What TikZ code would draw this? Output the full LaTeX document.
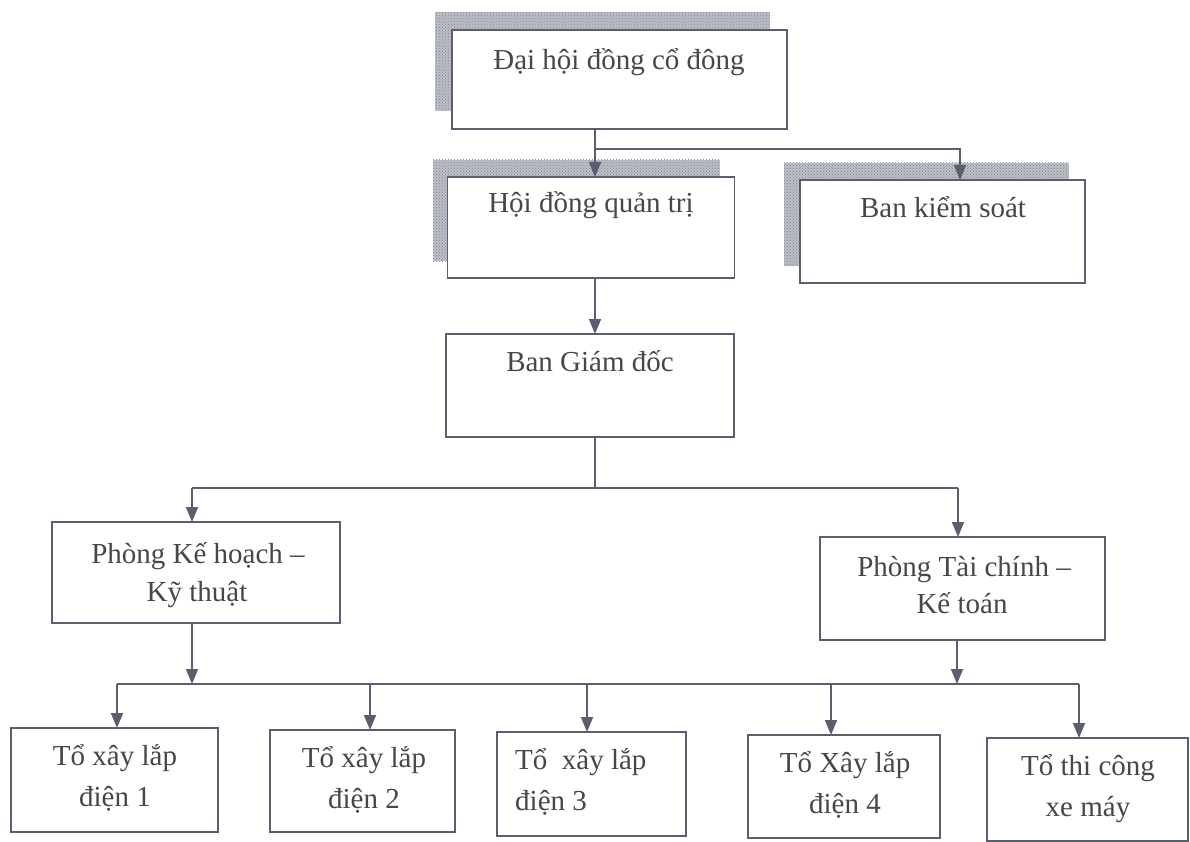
\documentclass[tikz,border=0pt]{standalone}
\usepackage{fontspec}
\setmainfont{Liberation Serif}
\usetikzlibrary{arrows.meta,backgrounds,patterns}
\definecolor{linec}{HTML}{5A5E6E}
\definecolor{textc}{HTML}{474747}
\definecolor{shadowc}{HTML}{BDBFC7}
\definecolor{shadowdot}{HTML}{7E8190}
\begin{document}
\begin{tikzpicture}[x=1pt,y=-1pt,
  box/.style={draw=linec, line width=1.8pt, fill=white, inner sep=0pt, outer sep=0pt},
  shadowbox/.style={fill=shadowc, draw=none},
  shadowdots/.style={pattern=crosshatch dots, pattern color=shadowdot, draw=none},
  lbl/.style={text=textc, font=\fontsize{29}{40}\selectfont, inner sep=0pt, anchor=base},
  conn/.style={draw=linec, line width=1.7pt},
  arr/.style={conn, -{Triangle[length=15pt,width=12pt]}},
]
\useasboundingbox (0,0) rectangle (1190,842);

% boxes
\node[box, minimum width=335pt, minimum height=99pt]  (dh)  at (619.5,79.5) {};
\node[box, minimum width=287pt, minimum height=101pt] (hq)  at (591,227.5) {};
\node[box, minimum width=285pt, minimum height=103pt] (bks) at (942.5,231.5) {};
\node[box, minimum width=288pt, minimum height=103pt] (bgd) at (590,385.5) {};
\node[box, minimum width=288pt, minimum height=101pt] (pkh) at (196,572.5) {};
\node[box, minimum width=285pt, minimum height=103pt] (ptc) at (962.5,588.5) {};
\node[box, minimum width=207pt, minimum height=104pt] (b1)  at (114.5,780) {};
\node[box, minimum width=185pt, minimum height=102pt] (b2)  at (362.5,781) {};
\node[box, minimum width=189pt, minimum height=104pt] (b3)  at (591.5,784) {};
\node[box, minimum width=192pt, minimum height=103pt] (b4)  at (844,786.5) {};
\node[box, minimum width=201pt, minimum height=103pt] (b5)  at (1087.5,789.5) {};

% shadows and page
\begin{scope}[on background layer]
\fill[white] (0,0) rectangle (1190,842);
\foreach \n/\dx/\dy in {dh/-17/-18, hq/-15/-17, bks/-16/-17} {
  \fill[shadowbox] ([shift={(\dx,\dy)}]\n.north west) rectangle ([shift={(\dx,\dy)}]\n.south east);
  \fill[shadowdots] ([shift={(\dx,\dy)}]\n.north west) rectangle ([shift={(\dx,\dy)}]\n.south east);
}
\end{scope}

% texts
\node[lbl] (dh-t)  at (619,70)  {Đại hội đồng cổ đông};
\node[lbl] (hq-t)  at (591,213) {Hội đồng quản trị};
\node[lbl] (bks-t) at (943,218) {Ban kiểm soát};
\node[lbl] (bgd-t) at (590,371) {Ban Giám đốc};
\node[lbl] (pkh-t1) at (198,563) {Phòng Kế hoạch –};
\node[lbl] (pkh-t2) at (197,601) {Kỹ thuật};
\node[lbl] (ptc-t1) at (964,576) {Phòng Tài chính –};
\node[lbl] (ptc-t2) at (962,613) {Kế toán};
\node[lbl] (b1-t1) at (115,765) {Tổ xây lắp};
\node[lbl] (b1-t2) at (115,806) {điện 1};
\node[lbl] (b2-t1) at (364,767) {Tổ xây lắp};
\node[lbl] (b2-t2) at (364,808) {điện 2};
\node[lbl, anchor=base west] (b3-t1) at (515,769) {Tổ\ \ xây lắp};
\node[lbl, anchor=base west] (b3-t2) at (515,810) {điện 3};
\node[lbl] (b4-t1) at (845,772) {Tổ Xây lắp};
\node[lbl] (b4-t2) at (845,813) {điện 4};
\node[lbl] (b5-t1) at (1088,775) {Tổ thi công};
\node[lbl] (b5-t2) at (1088,816) {xe máy};

% junction coordinates
\coordinate (j1) at (595,149);
\coordinate (j1r) at (960,149);
\coordinate (j2) at (595,488);
\coordinate (j2l) at (192,488);
\coordinate (j2r) at (958,488);
\coordinate (j3l) at (117,684);
\coordinate (j3a) at (192,684);
\coordinate (j3b) at (370,684);
\coordinate (j3c) at (587,684);
\coordinate (j3d) at (831,684);
\coordinate (j3e) at (957,684);
\coordinate (j3r) at (1079,684);

% connectors
\draw[conn] (j1 |- dh.south) -- (j1);
\draw[arr] (j1) -- (j1 |- hq.north);
\draw[arr] (j1) -- (j1r) -- (j1r |- bks.north);
\draw[arr] (j1 |- hq.south) -- (j1 |- bgd.north);
\draw[conn] (j2 |- bgd.south) -- (j2);
\draw[conn] (j2l) -- (j2r);
\draw[arr] (j2l) -- (j2l |- pkh.north);
\draw[arr] (j2r) -- (j2r |- ptc.north);
\draw[arr] (j3a |- pkh.south) -- (j3a);
\draw[arr] (j3e |- ptc.south) -- (j3e);
\draw[conn] (j3l) -- (j3r);
\draw[arr] (j3l) -- (j3l |- b1.north);
\draw[arr] (j3b) -- (j3b |- b2.north);
\draw[arr] (j3c) -- (j3c |- b3.north);
\draw[arr] (j3d) -- (j3d |- b4.north);
\draw[arr] (j3r) -- (j3r |- b5.north);
\end{tikzpicture}
\end{document}
